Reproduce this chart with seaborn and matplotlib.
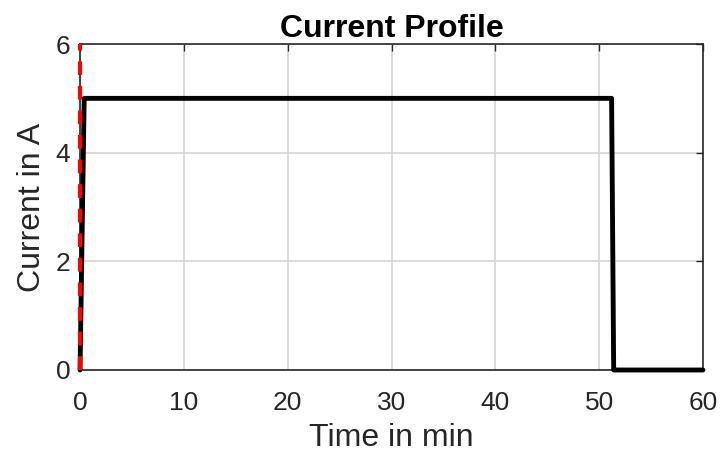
import numpy as np
import pandas as pd
import seaborn as sns
import matplotlib
matplotlib.use("Agg")
import matplotlib.pyplot as plt

# current profile (time in min, current in A)
time_min = [0.0, 0.4, 51.2, 51.4, 60.0]
current_a = [0.0, 5.0, 5.0, 0.0, 0.0]

# red dashed marker line at t = 0
marker_t = [0.0, 0.0]
marker_i = [0.0, 6.0]

x_ticks = [0, 10, 20, 30, 40, 50, 60]
y_ticks = [0, 2, 4, 6]

sns.set_style("whitegrid")
plt.rcParams['font.family'] = ['Liberation Sans', 'DejaVu Sans']

fig = plt.figure(figsize=(7.23, 4.59), dpi=100)
ax = fig.add_axes([0.1107, 0.1939, 0.8616, 0.7102])

df = pd.DataFrame({'t': time_min, 'i': current_a})
sns.lineplot(data=df, x='t', y='i', ax=ax, color='black', lw=3.5, sort=False,
             zorder=4, clip_on=False)
ax.plot(marker_t, marker_i, color='red', lw=3, ls=(0, (3.3, 2.6)), zorder=5, clip_on=False)

ax.set_xlim(0, 60)
ax.set_ylim(0, 6)
ax.set_xticks(x_ticks)
ax.set_yticks(y_ticks)
ax.grid(True, color='#d6d6d6', lw=1.2)
ax.set_axisbelow(True)
for s in ax.spines.values():
    s.set_visible(True)
    s.set_color('#262626')
    s.set_linewidth(1.2)
ax.tick_params(direction='in', length=5, width=1, colors='#262626',
               top=True, right=True, labelsize=19)
ax.tick_params(axis='x', pad=15)
ax.tick_params(axis='y', pad=7)

ax.set_xlabel('Time in min', fontsize=23, color='#262626', labelpad=6)
ax.set_ylabel('Current in A', fontsize=23, color='#262626', labelpad=6)
ax.set_title('Current Profile', fontsize=23, fontweight='bold', color='black', pad=5)

fig.savefig('out.png', dpi=100)
